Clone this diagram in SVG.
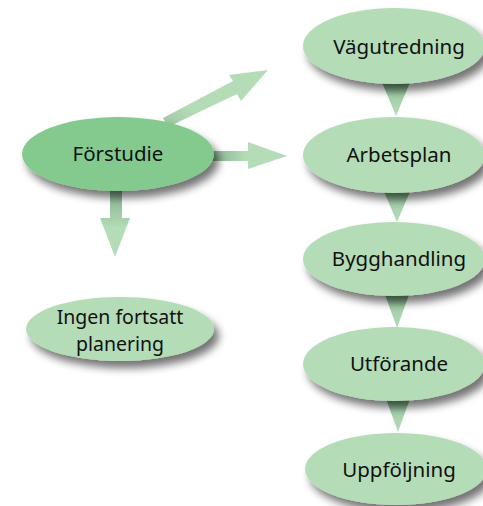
<svg xmlns="http://www.w3.org/2000/svg" width="483" height="506" viewBox="0 0 483 506">
<style>
.n{fill:#b4dcb6;filter:url(#sh)}
.d{fill:#84c98e;filter:url(#sh)}
.t{font-family:"Noto Sans","Open Sans",sans-serif;font-size:20.5px;fill:#111;text-anchor:middle}
.s{font-size:19.5px}
</style>
<defs>
<filter id="sh" x="-20%" y="-30%" width="150%" height="180%">
<feGaussianBlur in="SourceAlpha" stdDeviation="4"/>
<feOffset dx="5" dy="7" result="b"/>
<feComponentTransfer><feFuncA type="linear" slope="0.55"/></feComponentTransfer>
<feMerge><feMergeNode/><feMergeNode in="SourceGraphic"/></feMerge>
</filter>
<linearGradient id="tri" x1="0" y1="0" x2="0" y2="1">
<stop offset="0" stop-color="#6fa27a"/>
<stop offset="0.45" stop-color="#a4d0aa"/>
<stop offset="1" stop-color="#b4dcb6"/>
</linearGradient>
<linearGradient id="gr" x1="0" y1="0" x2="1" y2="0">
<stop offset="0" stop-color="#7fa888"/>
<stop offset="0.5" stop-color="#b4dcb6"/>
</linearGradient>
<linearGradient id="gd" x1="0" y1="0" x2="0" y2="1">
<stop offset="0" stop-color="#7fa888"/>
<stop offset="0.6" stop-color="#b4dcb6"/>
</linearGradient>
<linearGradient id="gu" x1="0" y1="1" x2="1" y2="0">
<stop offset="0" stop-color="#9cc4a2"/>
<stop offset="0.3" stop-color="#b4dcb6"/>
</linearGradient>
</defs>
<g id="connectors">
<path fill="url(#gr)" d="M205,151 L248,151 L248,142 L287,156 L248,169 L248,161 L205,161 Z"/>
<path fill="url(#gd)" d="M110,185 L122,185 L122,218 L130,218 L115,257 L100,218 L110,218 Z"/>
<path fill="url(#gu)" d="M163,118 L233,81 L229,75 L268,70 L241,101 L237,94 L168,127 Z"/>
<polygon fill="url(#tri)" points="381,80 411,80 396,116"/>
<polygon fill="url(#tri)" points="382,187 412,187 397,222"/>
<polygon fill="url(#tri)" points="384,292 410,292 397,328"/>
<polygon fill="url(#tri)" points="385,396 411,396 398,432"/>
</g>
<g id="forstudie"><ellipse class="d" cx="118" cy="154" rx="96" ry="37"/><text class="t" x="118" y="161">Förstudie</text></g>
<g id="vagutredning"><ellipse class="n" cx="394" cy="46" rx="91" ry="38"/><text class="t" x="399" y="54">Vägutredning</text></g>
<g id="arbetsplan"><ellipse class="n" cx="394" cy="155" rx="91" ry="38"/><text class="t" x="399" y="162">Arbetsplan</text></g>
<g id="bygghandling"><ellipse class="n" cx="394" cy="259" rx="91" ry="37"/><text class="t" x="399" y="266">Bygghandling</text></g>
<g id="utforande"><ellipse class="n" cx="394" cy="364" rx="91" ry="37"/><text class="t" x="399" y="371">Utförande</text></g>
<g id="uppfoljning"><ellipse class="n" cx="396" cy="469" rx="91" ry="36"/><text class="t" x="399" y="477">Uppföljning</text></g>
<g id="ingen"><ellipse class="n" cx="120" cy="329" rx="94" ry="32"/><text class="t s" x="120" y="324">Ingen fortsatt</text><text class="t s" x="120" y="351">planering</text></g>
</svg>
